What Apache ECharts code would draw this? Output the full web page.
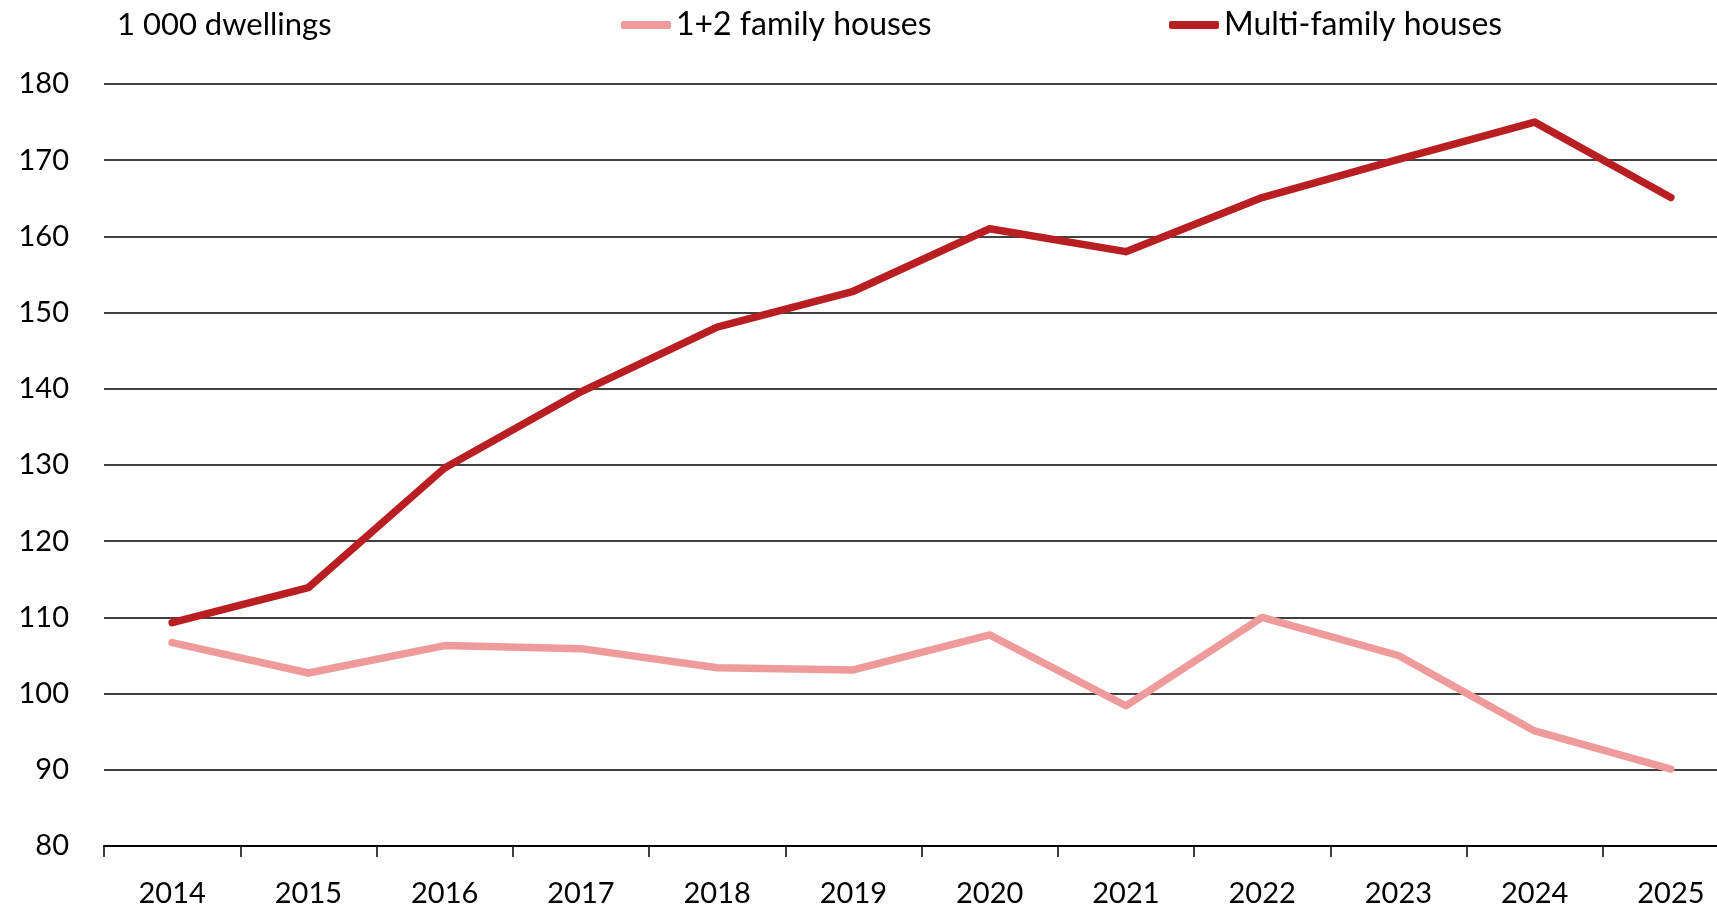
<!DOCTYPE html>
<html>
<head>
<meta charset="utf-8">
<script src="https://cdn.jsdelivr.net/npm/echarts@6/dist/echarts.min.js"></script>
<style>
  html, body { margin: 0; padding: 0; background: #fff; }
  #chart { width: 1717px; height: 908px; }
</style>
</head>
<body>
<div id="chart"></div>
<script>
const years = ['2014', '2015', '2016', '2017', '2018', '2019', '2020', '2021', '2022', '2023', '2024', '2025'];
const smallHouses = [106.7, 102.7, 106.3, 105.9, 103.4, 103.1, 107.7, 98.4, 110.0, 105.0, 95.1, 90.1];
const multiHouses = [109.3, 113.9, 129.6, 139.6, 148.1, 152.8, 161.0, 158.0, 165.1, 170.1, 175.0, 165.1];
const yTicks = { min: 80, max: 180, step: 10 };

const font = 'Lato, "Noto Sans", sans-serif';
const pink = '#EF9B9B';
const red = '#B91E22';

const chart = echarts.init(document.getElementById('chart'));

const legendBase = {
  top: 4,
  icon: 'roundRect',
  itemWidth: 50,
  itemHeight: 8,
  textStyle: { fontFamily: font, fontSize: 32, color: '#000' },
  selectedMode: false
};

chart.setOption({
  animation: false,
  title: {
    text: '1 000 dwellings',
    left: 112,
    top: 4,
    textStyle: { fontFamily: font, fontSize: 31, fontWeight: 'normal', color: '#000' }
  },
  legend: [
    Object.assign({}, legendBase, { data: ['1+2 family houses'], left: 616 }),
    Object.assign({}, legendBase, { data: ['Multi-family houses'], left: 1164 })
  ],
  grid: {
    left: 104,
    top: 84,
    width: 1635,
    bottom: 62,
    outerBoundsMode: 'none',
    containLabel: false
  },
  xAxis: {
    type: 'category',
    data: years,
    boundaryGap: true,
    axisLine: { lineStyle: { color: '#000', width: 2 } },
    axisTick: { show: true, length: 11, lineStyle: { color: '#000', width: 1.5 } },
    axisLabel: { fontFamily: font, fontSize: 29, color: '#000', margin: 33 }
  },
  yAxis: {
    type: 'value',
    min: yTicks.min,
    max: yTicks.max,
    interval: yTicks.step,
    axisLine: { show: false },
    axisTick: { show: false },
    axisLabel: { fontFamily: font, fontSize: 29, color: '#000', margin: 35 },
    splitLine: { lineStyle: { color: '#000', width: 1.5 } }
  },
  series: [
    {
      name: '1+2 family houses',
      type: 'line',
      data: smallHouses,
      showSymbol: false,
      color: pink,
      lineStyle: { color: pink, width: 7.5, cap: 'round', join: 'round' }
    },
    {
      name: 'Multi-family houses',
      type: 'line',
      data: multiHouses,
      showSymbol: false,
      color: red,
      lineStyle: { color: red, width: 7.5, cap: 'round', join: 'round' }
    }
  ]
});

window.addEventListener('resize', () => {
  chart.resize();
});
</script>
</body>
</html>
